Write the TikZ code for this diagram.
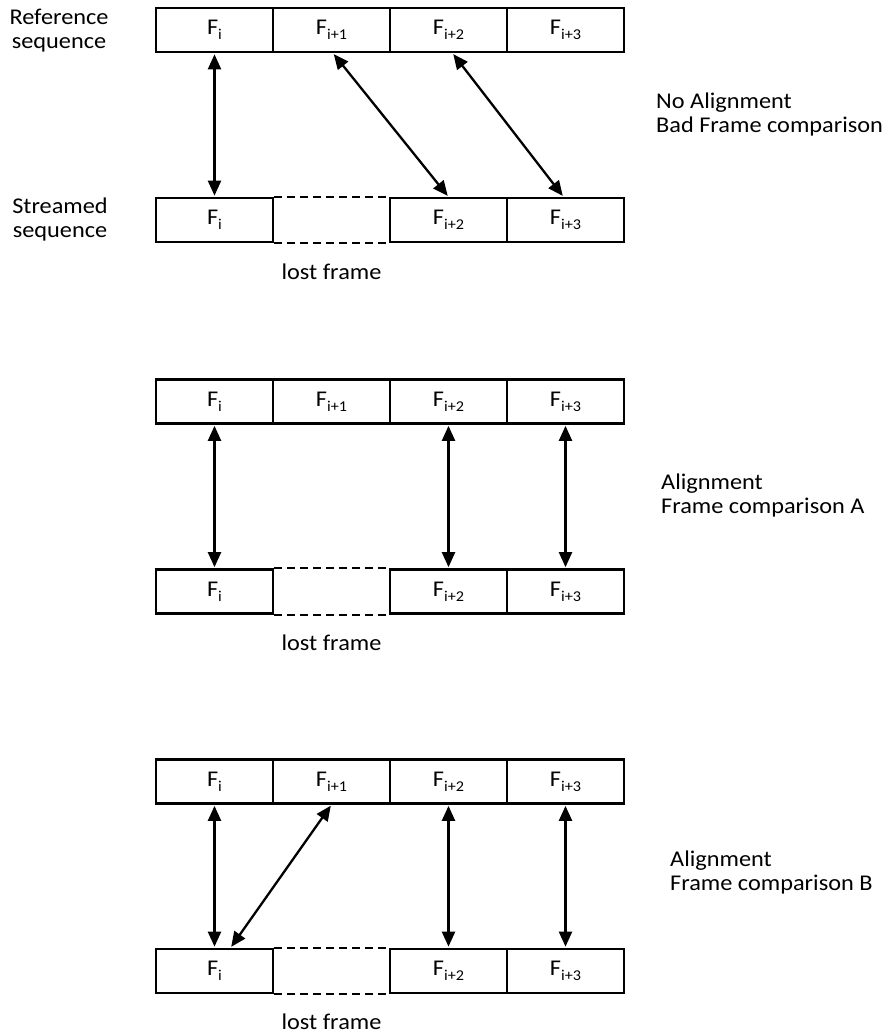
\documentclass[tikz,border=0pt]{standalone}
\usepackage{fontspec}
\setmainfont{Carlito}[FakeStretch=1.08]
\usetikzlibrary{arrows.meta}
\newcommand\sbs[1]{\raisebox{-0.22em}{\fontsize{15}{15}\selectfont #1}}
\begin{document}
\begin{tikzpicture}[x=1pt,y=-1pt,
  cell/.style={draw, line width=2.3pt, minimum width=117pt, minimum height=44pt, inner sep=0pt, font=\fontsize{22.5}{24}\selectfont},
  lbl/.style={font=\fontsize{22.5}{24}\selectfont, inner sep=0pt},
  conn/.style={{Triangle[width=13pt,length=15pt]}-{Triangle[width=13pt,length=15pt]}, line width=2.3pt, shorten <=1.2pt, shorten >=1.2pt},
  lost/.style={line width=2pt, dash pattern=on 8pt off 5pt}
]
\useasboundingbox (0,0) rectangle (885,1034);
% panel rows: name, top y, bottom y
\foreach \p/\ty/\by in {a/30/220, b/401.5/591.5, c/781.5/971}{
  \node[cell] (\p t1) at (214.5,\ty) {F\sbs{i}};
  \node[cell] (\p t2) at (331.5,\ty) {F\sbs{i+1}};
  \node[cell] (\p t3) at (448.5,\ty) {F\sbs{i+2}};
  \node[cell] (\p t4) at (565.5,\ty) {F\sbs{i+3}};
  \node[cell] (\p b1) at (214.5,\by) {F\sbs{i}};
  \node[cell] (\p b3) at (448.5,\by) {F\sbs{i+2}};
  \node[cell] (\p b4) at (565.5,\by) {F\sbs{i+3}};
  \draw[lost] (\p b1.north east) -- (\p b3.north west);
  \draw[lost] (\p b1.south east) -- (\p b3.south west);
}
\node[lbl] (la) at (331.5,272) {lost frame};
\node[lbl] (lb) at (331.5,643) {lost frame};
\node[lbl] (lc) at (331.5,1022) {lost frame};

\node[lbl, align=center] (ref) at (59,30.5) {Reference\\sequence};
\node[lbl, align=center] (str) at (60,219) {Streamed\\sequence};

\node[lbl, align=left, anchor=west] (ra) at (656,114) {No Alignment\\Bad Frame comparison};
\node[lbl, align=left, anchor=west] (rb) at (661,495) {Alignment\\Frame comparison A};
\node[lbl, align=left, anchor=west] (rc) at (670,872) {Alignment\\Frame comparison B};

% panel a connectors
\draw[conn] (at1.south) -- (ab1.north);
\draw[conn] ([xshift=1.5pt]at2.south) -- (ab3.north);
\draw[conn] ([xshift=4pt]at3.south) -- ([xshift=-2pt]ab4.north);
% panel b connectors
\draw[conn] (bt1.south) -- (bb1.north);
\draw[conn] (bt3.south) -- (bb3.north);
\draw[conn] (bt4.south) -- (bb4.north);
% panel c connectors
\draw[conn] (ct1.south) -- (cb1.north);
\draw[conn] (ct2.south) -- ([xshift=16pt]cb1.north);
\draw[conn] (ct3.south) -- (cb3.north);
\draw[conn] (ct4.south) -- (cb4.north);
\end{tikzpicture}
\end{document}
